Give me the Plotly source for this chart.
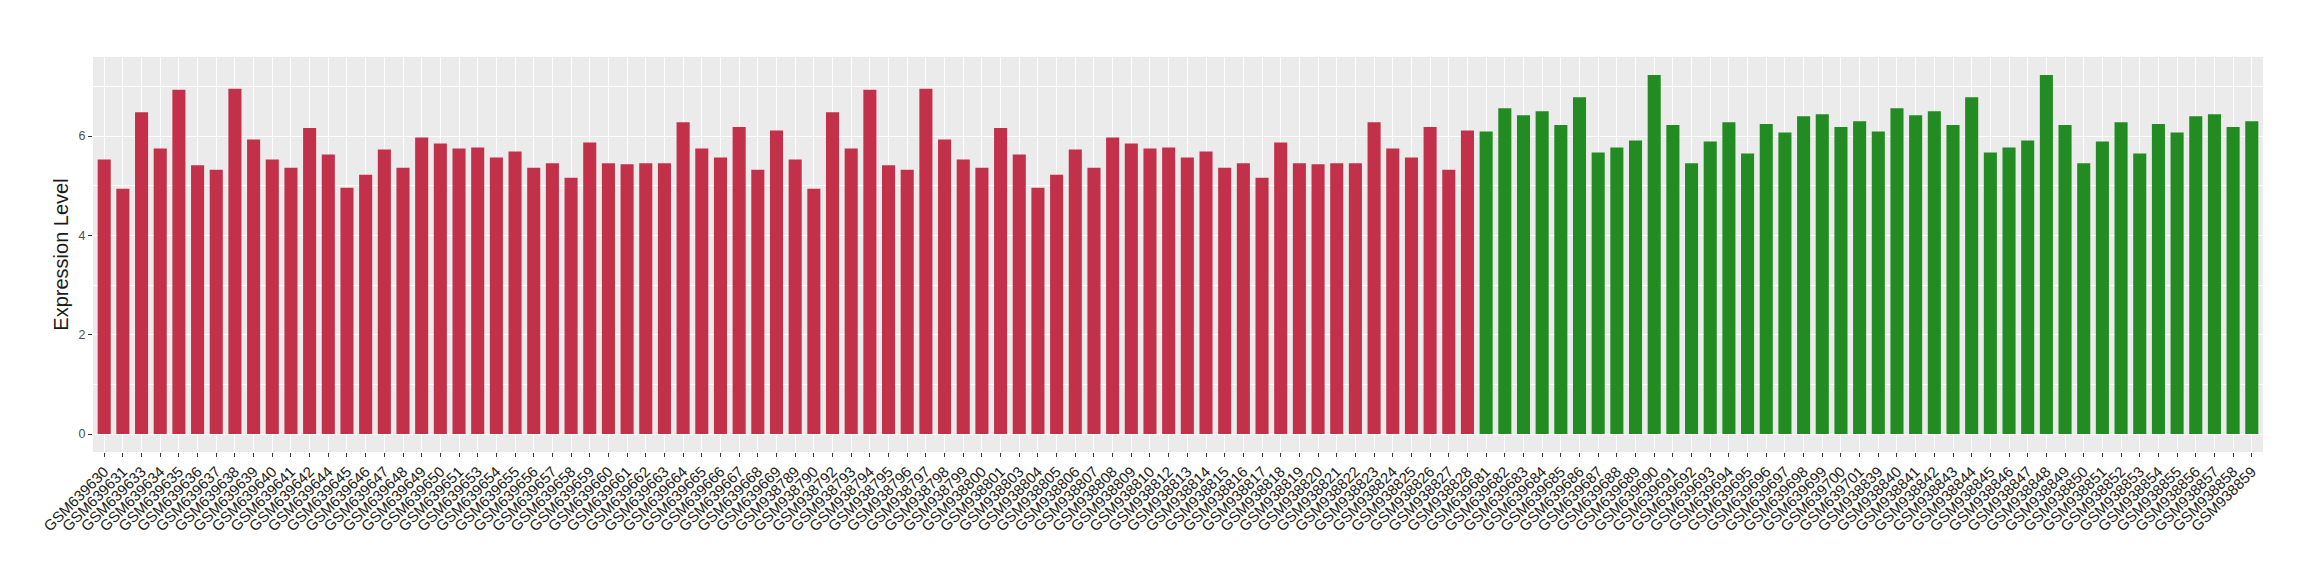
import plotly.graph_objects as go

red_samples_a = ["GSM639630", "GSM639631", "GSM639633", "GSM639634", "GSM639635", "GSM639636",
                 "GSM639637", "GSM639638", "GSM639639", "GSM639640", "GSM639641", "GSM639642",
                 "GSM639644", "GSM639645", "GSM639646", "GSM639647", "GSM639648", "GSM639649",
                 "GSM639650", "GSM639651", "GSM639653", "GSM639654", "GSM639655", "GSM639656",
                 "GSM639657", "GSM639658", "GSM639659", "GSM639660", "GSM639661", "GSM639662",
                 "GSM639663", "GSM639664", "GSM639665", "GSM639666", "GSM639667", "GSM639668",
                 "GSM639669"]
red_values_a = [5.53, 4.94, 6.48, 5.75, 6.93, 5.41, 5.32, 6.95, 5.93, 5.53, 5.36, 6.16,
                5.63, 4.96, 5.22, 5.73, 5.36, 5.97, 5.85, 5.75, 5.77, 5.57, 5.69, 5.36,
                5.45, 5.16, 5.87, 5.45, 5.43, 5.45, 5.45, 6.28, 5.75, 5.57, 6.18, 5.32,
                6.11]

red_samples_b = ["GSM938789", "GSM938790", "GSM938792", "GSM938793", "GSM938794", "GSM938795",
                 "GSM938796", "GSM938797", "GSM938798", "GSM938799", "GSM938800", "GSM938801",
                 "GSM938803", "GSM938804", "GSM938805", "GSM938806", "GSM938807", "GSM938808",
                 "GSM938809", "GSM938810", "GSM938812", "GSM938813", "GSM938814", "GSM938815",
                 "GSM938816", "GSM938817", "GSM938818", "GSM938819", "GSM938820", "GSM938821",
                 "GSM938822", "GSM938823", "GSM938824", "GSM938825", "GSM938826", "GSM938827",
                 "GSM938828"]
red_values_b = [5.53, 4.94, 6.48, 5.75, 6.93, 5.41, 5.32, 6.95, 5.93, 5.53, 5.36, 6.16,
                5.63, 4.96, 5.22, 5.73, 5.36, 5.97, 5.85, 5.75, 5.77, 5.57, 5.69, 5.36,
                5.45, 5.16, 5.87, 5.45, 5.43, 5.45, 5.45, 6.28, 5.75, 5.57, 6.18, 5.32,
                6.11]

green_samples_a = ["GSM639681", "GSM639682", "GSM639683", "GSM639684", "GSM639685", "GSM639686",
                   "GSM639687", "GSM639688", "GSM639689", "GSM639690", "GSM639691", "GSM639692",
                   "GSM639693", "GSM639694", "GSM639695", "GSM639696", "GSM639697", "GSM639698",
                   "GSM639699", "GSM639700", "GSM639701"]
green_values_a = [6.09, 6.56, 6.42, 6.50, 6.22, 6.78, 5.67, 5.77, 5.91, 7.23, 6.22, 5.45,
                  5.89, 6.28, 5.65, 6.24, 6.07, 6.40, 6.44, 6.18, 6.30]

green_samples_b = ["GSM938839", "GSM938840", "GSM938841", "GSM938842", "GSM938843", "GSM938844",
                   "GSM938845", "GSM938846", "GSM938847", "GSM938848", "GSM938849", "GSM938850",
                   "GSM938851", "GSM938852", "GSM938853", "GSM938854", "GSM938855", "GSM938856",
                   "GSM938857", "GSM938858", "GSM938859"]
green_values_b = [6.09, 6.56, 6.42, 6.50, 6.22, 6.78, 5.67, 5.77, 5.91, 7.23, 6.22, 5.45,
                  5.89, 6.28, 5.65, 6.24, 6.07, 6.40, 6.44, 6.18, 6.30]

y_ticks = [0, 2, 4, 6]
y_title = "Expression Level"

RED = "#C3304A"
GREEN = "#228B22"

categories = red_samples_a + red_samples_b + green_samples_a + green_samples_b
values = red_values_a + red_values_b + green_values_a + green_values_b
colors = ([RED] * (len(red_samples_a) + len(red_samples_b))
          + [GREEN] * (len(green_samples_a) + len(green_samples_b)))

fig = go.Figure(go.Bar(x=categories, y=values, marker=dict(color=colors, line=dict(width=0)),
                       showlegend=False))

ymax = max(values)
pad = 0.05 * ymax
n = len(categories)

# page body adds an 8px margin; figure sized so that it fits the 2320x580 window
fig.update_layout(
    width=2304, height=564,
    margin=dict(l=85, r=49, t=49, b=120),
    paper_bgcolor="white",
    plot_bgcolor="#EBEBEB",
    bargap=0.3,
    font=dict(family="Liberation Sans, Arial, sans-serif", color="#1A1A1A"),
)
fig.update_xaxes(
    type="category",
    categoryorder="array", categoryarray=categories,
    range=[-0.6, n - 0.4],
    tickangle=-45,
    tickfont=dict(size=15, color="#1A1A1A"),
    showgrid=True, gridcolor="white", gridwidth=1.1,
    ticks="outside", ticklen=4, tickcolor="#333333", tickwidth=1.1,
    showline=False, zeroline=False,
    automargin=False,
)
fig.update_yaxes(
    range=[-pad, ymax + pad],
    tickmode="array", tickvals=y_ticks, ticktext=[str(t) for t in y_ticks],
    tickfont=dict(size=12.5, color="#4D4D4D"),
    showgrid=True, gridcolor="white", gridwidth=1.3,
    minor=dict(dtick=1, tick0=0, showgrid=True, gridcolor="white", gridwidth=0.6),
    ticks="outside", ticklen=4, tickcolor="#333333", tickwidth=1.1,
    zeroline=False, showline=False,
    automargin=False,
    title=dict(text=y_title, font=dict(size=20, color="#1A1A1A"), standoff=4),
)

fig.write_html("out.html")
